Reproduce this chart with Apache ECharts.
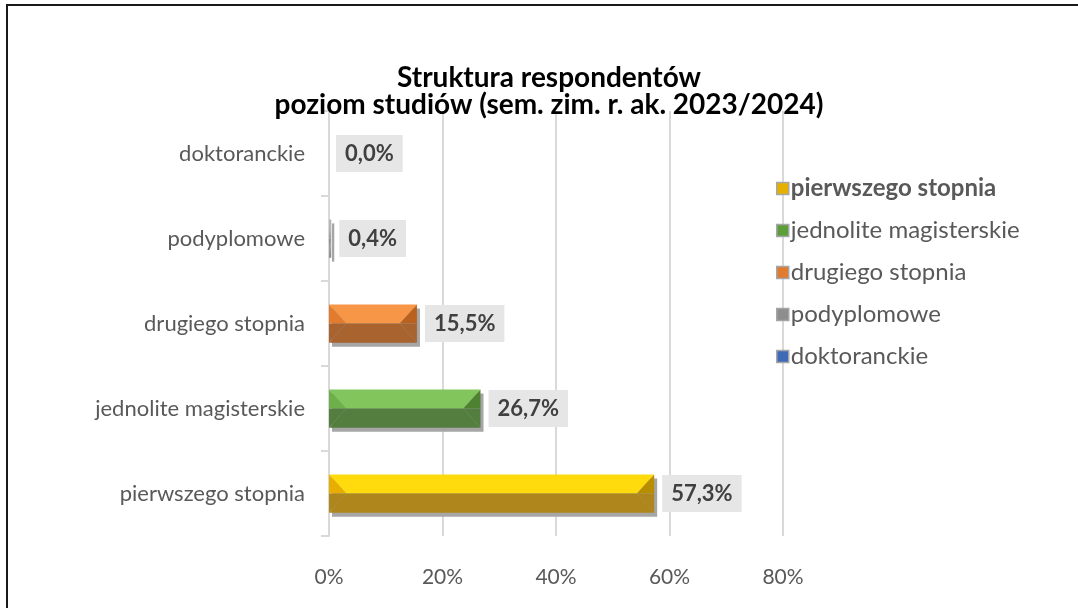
<!DOCTYPE html>
<html>
<head>
<meta charset="utf-8">
<script src="https://cdn.jsdelivr.net/npm/echarts@6/dist/echarts.min.js"></script>
<style>
  html, body { margin: 0; padding: 0; background: #fff; }
  #Bar { width: 1078px; height: 608px; }
</style>
</head>
<body>
<div id="Bar"></div>
<script>
// dane - struktura respondentow wg poziomu studiow
var categories = ['pierwszego stopnia', 'jednolite magisterskie', 'drugiego stopnia', 'podyplomowe', 'doktoranckie'];
var values = [57.3, 26.7, 15.5, 0.4, 0.0];
var valueLabels = ['57,3%', '26,7%', '15,5%', '0,4%', '0,0%'];
var xTicks = [0, 20, 40, 60, 80];

// kolory: gora, dol, lewy trojkat, prawy trojkat
var barColors = [
    ['#FFDA0C', '#AE861B', '#E8AF00', '#B88E00'],
    ['#82C55C', '#547E40', '#6DB049', '#4E8232'],
    ['#F79646', '#A8632F', '#E27B2C', '#B9621F'],
    ['#B5B5B5', '#8C8C8C', '#A0A0A0', '#8C8C8C'],
    ['#5B87D6', '#30528F', '#4472C4', '#2F5597']
];
var legendColors = ['#E6B000', '#5C9E3A', '#E07B2F', '#8E8E8E', '#3E6AB8'];

var FONT = 'Lato, "Open Sans", sans-serif';

function renderBevelBar(params, api) {
    var idx = api.value(1);
    var val = api.value(0);
    var c = barColors[idx];
    var end = api.coord([val, idx]);
    var start = api.coord([0, idx]);
    var h = api.size([0, 1])[1] * 0.45;
    var x0 = start[0], x1 = end[0];
    var ym = end[1], y0 = ym - h / 2, y1 = ym + h / 2;
    var w = x1 - x0;
    var b = Math.min(h * 0.45, w / 2);
    var children = [];
    if (w > 0.05) {
        children.push({ type: 'rect', shape: { x: x0 + 3, y: y0 + 4, width: w, height: h }, style: { fill: '#A6A6A6' } });
        children.push({ type: 'polygon', shape: { points: [[x0, y0], [x1, y0], [x1 - b, ym], [x0 + b, ym]] }, style: { fill: c[0] } });
        children.push({ type: 'polygon', shape: { points: [[x0, y1], [x1, y1], [x1 - b, ym], [x0 + b, ym]] }, style: { fill: c[1] } });
        children.push({ type: 'polygon', shape: { points: [[x0, y0], [x0 + b, ym], [x0, ym]] }, style: { fill: c[2] } });
        children.push({ type: 'polygon', shape: { points: [[x0, ym], [x0 + b, ym], [x0, y1]] }, style: { fill: c[1] } });
        children.push({ type: 'polygon', shape: { points: [[x1, y0], [x1 - b, ym], [x1, ym]] }, style: { fill: c[3] } });
        children.push({ type: 'polygon', shape: { points: [[x1, ym], [x1 - b, ym], [x1, y1]] }, style: { fill: c[1] } });
    }
    children.push({
        type: 'text',
        style: {
            text: valueLabels[idx],
            x: x1 + (w > 0.05 ? 8 : 7),
            y: ym,
            verticalAlign: 'middle',
            align: 'left',
            fill: '#404040',
            font: 'bold 22px ' + FONT,
            backgroundColor: '#E7E6E6',
            padding: [8, 9, 7, 9]
        }
    });
    return { type: 'group', children: children };
}

var myChart = echarts.init(document.getElementById('Bar'));

var option = {
    backgroundColor: '#fff',
    animation: false,
    title: {
        text: 'Struktura respondentów\npoziom studiów (sem. zim. r. ak. 2023/2024)',
        left: 544,
        textAlign: 'center',
        top: 59,
        textStyle: { fontFamily: FONT, fontSize: 28, fontWeight: 'bold', color: '#000', lineHeight: 27 }
    },
    legend: {
        orient: 'vertical',
        left: 771,
        top: 170,
        itemWidth: 12,
        itemHeight: 12,
        itemGap: 15,
        icon: 'rect',
        itemStyle: { borderColor: '#A6A6A6', borderWidth: 1.5 },
        textStyle: { fontFamily: FONT, fontSize: 24, color: '#595959', lineHeight: 27, padding: [0, 0, 0, -3] },
        data: categories.map(function (name, i) {
            var item = { name: name, itemStyle: { color: legendColors[i] } };
            if (i === 0) item.textStyle = { fontWeight: 'bold' };
            return item;
        })
    },
    grid: { left: 329, right: 295, top: 111, bottom: 72, containLabel: false },
    xAxis: {
        type: 'value',
        min: xTicks[0],
        max: xTicks[xTicks.length - 1],
        interval: 20,
        axisLine: { show: false },
        axisTick: { show: false },
        splitLine: { lineStyle: { color: '#D9D9D9', width: 2 } },
        axisLabel: { formatter: '{value}%', fontFamily: FONT, fontSize: 21, color: '#595959', margin: 31 }
    },
    yAxis: {
        type: 'category',
        data: categories,
        axisLine: { lineStyle: { color: '#D9D9D9', width: 2 } },
        axisTick: { show: true, length: 8, lineStyle: { color: '#D9D9D9', width: 2 } },
        axisLabel: { fontFamily: FONT, fontSize: 22, color: '#595959', margin: 24 }
    },
    graphic: [{
        type: 'rect',
        shape: { x: 7, y: 5, width: 1200, height: 800 },
        style: { fill: 'none', stroke: '#1a1a1a', lineWidth: 2 },
        silent: true
    }],
    series: categories.map(function (name, i) {
        return {
            name: name,
            type: 'custom',
            renderItem: renderBevelBar,
            itemStyle: { color: legendColors[i] },
            encode: { x: 0, y: 1 },
            data: [[values[i], i]]
        };
    })
};

myChart.setOption(option);
</script>
</body>
</html>
